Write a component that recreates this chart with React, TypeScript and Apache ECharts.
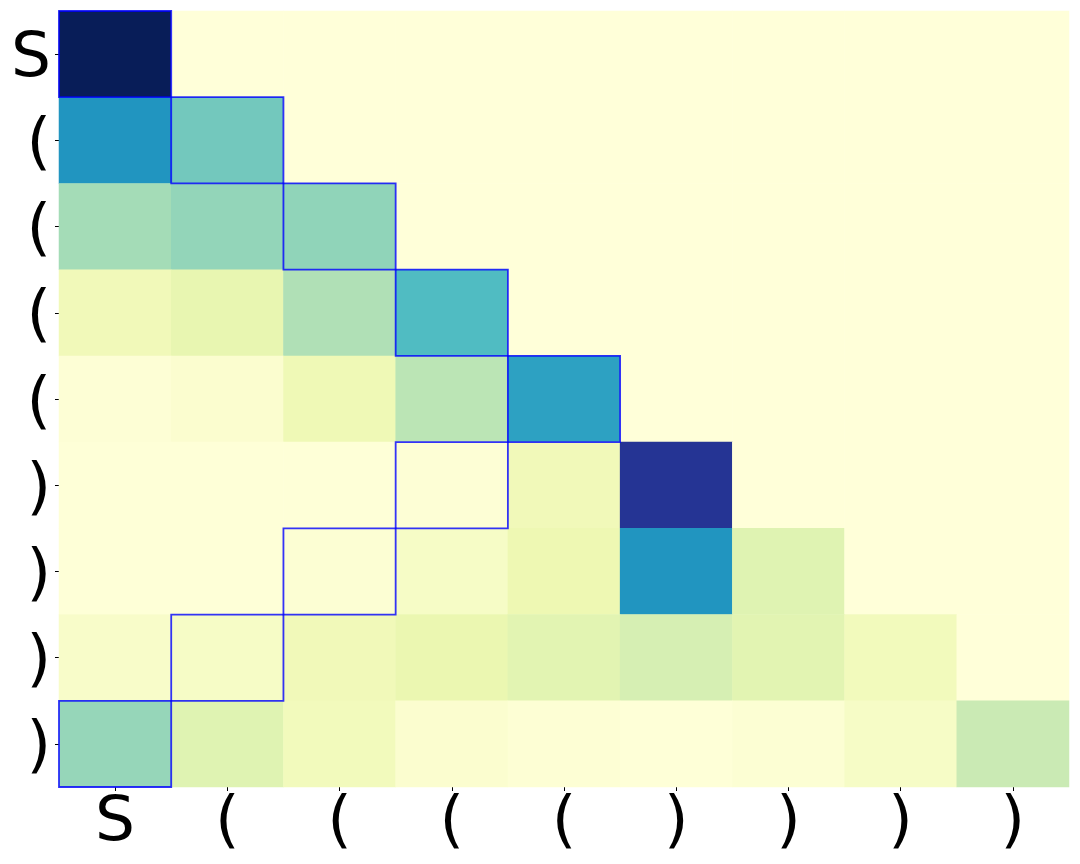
import React, { useEffect, useRef } from "react";
import * as echarts from "echarts";

const xLabels = ["S", "(", "(", "(", "(", ")", ")", ")", ")"];
const yLabels = ["S", "(", "(", "(", "(", ")", ")", ")", ")"];

// rows top->bottom, columns left->right, values 0..1
const row0 = [1.0, 0, 0, 0, 0, 0, 0, 0, 0];
const row1 = [0.61, 0.4, 0, 0, 0, 0, 0, 0, 0];
const row2 = [0.31, 0.34, 0.345, 0, 0, 0, 0, 0, 0];
const row3 = [0.1, 0.14, 0.29, 0.47, 0, 0, 0, 0, 0];
const row4 = [0.012, 0.03, 0.11, 0.27, 0.57, 0, 0, 0, 0];
const row5 = [0.005, 0.005, 0.005, 0.012, 0.1, 0.875, 0, 0, 0];
const row6 = [0.005, 0.005, 0.02, 0.06, 0.12, 0.61, 0.17, 0, 0];
const row7 = [0.05, 0.06, 0.1, 0.13, 0.16, 0.2, 0.16, 0.09, 0];
const row8 = [0.335, 0.17, 0.09, 0.03, 0.015, 0.005, 0.02, 0.06, 0.24];
const rows = [row0, row1, row2, row3, row4, row5, row6, row7, row8];

// highlighted cells [col, row]
const highlighted = [
  [0, 0], [1, 1], [2, 2], [3, 3], [4, 4],
  [3, 5], [2, 6], [1, 7], [0, 8],
];

const ylgnbu = ["#ffffd9", "#edf8b1", "#c7e9b4", "#7fcdbb", "#41b6c4", "#1d91c0", "#225ea8", "#253494", "#081d58"];

export default function App() {
  const ref = useRef<HTMLDivElement>(null);
  useEffect(() => {
    const chart = echarts.init(ref.current!, null, { renderer: "svg" });
    const data: number[][] = [];
    rows.forEach((r, yi) => r.forEach((v, xi) => data.push([xi, yi, v])));
    const font = "DejaVu Sans";
    chart.setOption({
      animation: false,
      grid: { left: 48, top: 3, right: 3, bottom: 69 },
      visualMap: { show: false, min: 0, max: 1, inRange: { color: ylgnbu }, seriesIndex: 0, dimension: 2 },
      xAxis: {
        type: "category",
        data: xLabels,
        axisLine: { show: false },
        axisTick: { show: true, length: 4, lineStyle: { color: "#000" }, alignWithLabel: true },
        axisLabel: { color: "#000", fontSize: 63, fontFamily: font, margin: 0 },
        splitLine: { show: false },
      },
      yAxis: {
        type: "category",
        inverse: true,
        data: yLabels,
        axisLine: { show: false },
        axisTick: { show: true, length: 4, lineStyle: { color: "#000" }, alignWithLabel: true },
        axisLabel: { color: "#000", fontSize: 63, fontFamily: font, margin: 8 },
        splitLine: { show: false },
      },
      series: [
        {
          type: "heatmap",
          data,
          itemStyle: { borderWidth: 0 },
          emphasis: { disabled: true },
        },
        {
          type: "custom",
          data: highlighted,
          z: 10,
          renderItem: (params: any, api: any) => {
            const c = api.coord([api.value(0), api.value(1)]);
            const s = api.size([1, 1]);
            return {
              type: "rect",
              shape: { x: c[0] - s[0] / 2, y: c[1] - s[1] / 2, width: s[0], height: s[1] },
              style: { fill: "none", stroke: "rgba(0,0,255,0.8)", lineWidth: 1.8 },
            };
          },
        },
      ],
    });
    return () => chart.dispose();
  }, []);
  return <div ref={ref} style={{ width: 1064, height: 848 }} />;
}
